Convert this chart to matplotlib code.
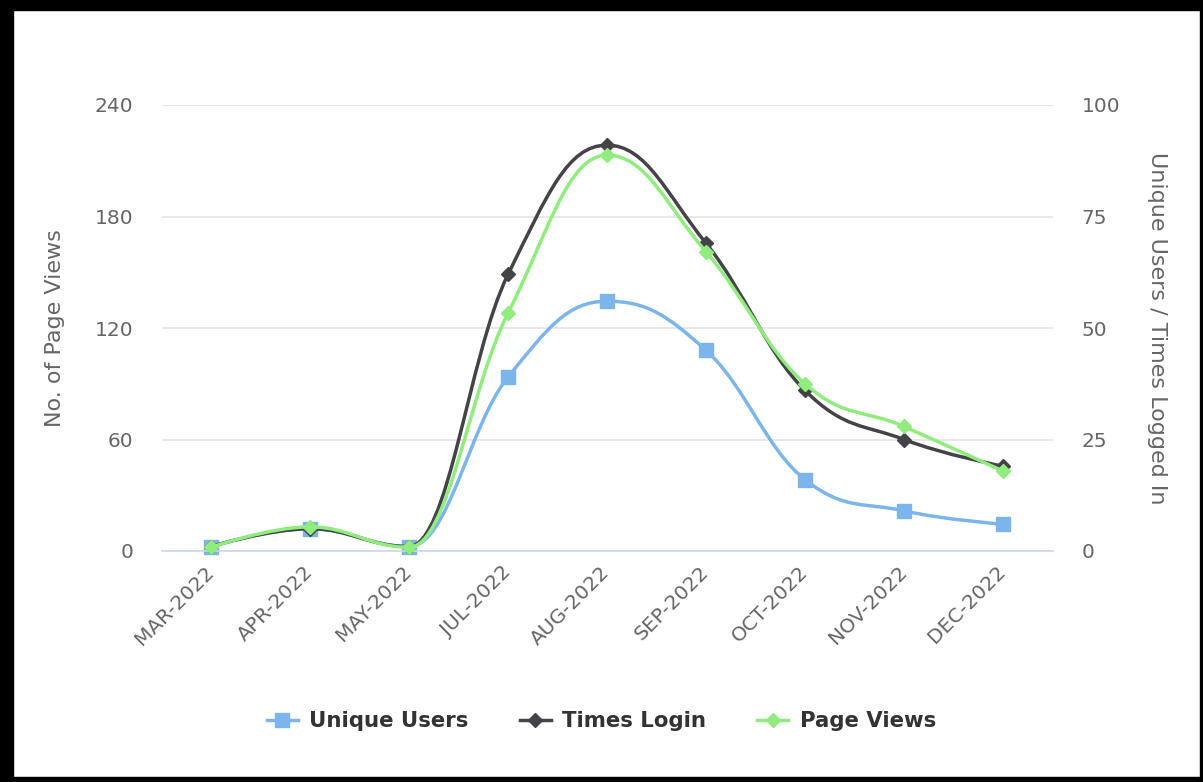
import numpy as np
import matplotlib
matplotlib.use("Agg")
from matplotlib import pyplot as plt
from matplotlib.path import Path
from matplotlib.patches import PathPatch, Rectangle
from matplotlib.lines import Line2D

# data
months = ['MAR-2022', 'APR-2022', 'MAY-2022', 'JUL-2022', 'AUG-2022',
          'SEP-2022', 'OCT-2022', 'NOV-2022', 'DEC-2022']
unique_users = [1, 5, 1, 39, 56, 45, 16, 9, 6]      # right axis
times_login = [1, 5, 1, 62, 91, 69, 36, 25, 19]     # right axis
page_views = [2, 13, 2, 128, 213, 161, 90, 67, 43]  # left axis

BLUE = '#7cb5ec'
DARK = '#434348'
GREEN = '#90ed7d'
GREY = '#666666'


def spline_path(xs, ys, smoothing=1.5):
    # highcharts style spline: bezier segments, control points from neighbours
    n = len(xs)
    left = [None] * n
    right = [None] * n
    denom = smoothing + 1
    for i in range(1, n - 1):
        x, y = xs[i], ys[i]
        lx, ly = xs[i - 1], ys[i - 1]
        nx, ny = xs[i + 1], ys[i + 1]
        lcx = (smoothing * x + lx) / denom
        lcy = (smoothing * y + ly) / denom
        rcx = (smoothing * x + nx) / denom
        rcy = (smoothing * y + ny) / denom
        corr = 0
        if rcx != lcx:
            corr = (rcy - lcy) * (rcx - x) / (rcx - lcx) + y - rcy
        lcy += corr
        rcy += corr
        # no false extremes
        if lcy > ly and lcy > y:
            lcy = max(ly, y); rcy = 2 * y - lcy
        elif lcy < ly and lcy < y:
            lcy = min(ly, y); rcy = 2 * y - lcy
        if rcy > ny and rcy > y:
            rcy = max(ny, y); lcy = 2 * y - rcy
        elif rcy < ny and rcy < y:
            rcy = min(ny, y); lcy = 2 * y - rcy
        left[i] = (lcx, lcy)
        right[i] = (rcx, rcy)
    verts = [(xs[0], ys[0])]
    codes = [Path.MOVETO]
    for i in range(1, n):
        c1 = right[i - 1] or (xs[i - 1], ys[i - 1])
        c2 = left[i] or (xs[i], ys[i])
        verts += [c1, c2, (xs[i], ys[i])]
        codes += [Path.CURVE4] * 3
    return Path(verts, codes)


W, H = 1203, 782
fig = plt.figure(figsize=(W / 100, H / 100), dpi=100)
ax = fig.add_axes([161.5 / W, 231 / H, 891 / W, 446 / H])
ax2 = ax.twinx()
ax.set_zorder(2)
ax2.set_zorder(1)
ax.patch.set_visible(False)

x = np.arange(len(months))

# right axis series
ax2.add_patch(PathPatch(spline_path(x, unique_users), fill=False, ec=BLUE, lw=2.5, zorder=3))
ax2.plot(x, unique_users, ls='none', marker='s', ms=10, color=BLUE, clip_on=False, zorder=4)
ax2.add_patch(PathPatch(spline_path(x, times_login), fill=False, ec=DARK, lw=2.5, zorder=5))
ax2.plot(x, times_login, ls='none', marker='D', ms=7, color=DARK, clip_on=False, zorder=6)

# left axis series
ax.add_patch(PathPatch(spline_path(x, page_views), fill=False, ec=GREEN, lw=2.5, zorder=3))
ax.plot(x, page_views, ls='none', marker='D', ms=7, color=GREEN, clip_on=False, zorder=4)

ax.set_xlim(-0.5, len(months) - 0.5)
ax.set_ylim(0, 240)
ax2.set_ylim(0, 100)
ax.set_yticks([0, 60, 120, 180, 240])
ax2.set_yticks([0, 25, 50, 75, 100])
ax.set_xticks(x)
ax.set_xticklabels(months, rotation=45, ha='right', va='center', rotation_mode='anchor')

ax2.yaxis.grid(True, color='#e6e6e6', lw=1.3)
ax2.set_axisbelow(True)

for a in (ax, ax2):
    for s in ('top', 'left', 'right'):
        a.spines[s].set_visible(False)
ax2.spines['bottom'].set_visible(False)
ax.spines['bottom'].set_color('#ccd6eb')
ax.spines['bottom'].set_linewidth(1.2)

ax.tick_params(axis='y', length=0, pad=20.5, labelsize=14.5, labelcolor=GREY)
ax2.tick_params(axis='y', length=0, pad=21, labelsize=14.5, labelcolor=GREY)
ax.tick_params(axis='x', length=0, pad=13, labelsize=14.5, labelcolor=GREY)

ax.set_ylabel('No. of Page Views', fontsize=16, color=GREY, va='center')
ax.yaxis.set_label_coords((55 - 161.5) / 891, 0.5)
ax2.set_ylabel('Unique Users / Times Logged In', fontsize=16, color=GREY,
               rotation=270, va='center')
ax2.yaxis.set_label_coords((1157 - 161.5) / 891, 0.5)

handles = [
    Line2D([], [], color=BLUE, lw=2.5, marker='s', ms=10),
    Line2D([], [], color=DARK, lw=2.5, marker='D', ms=7),
    Line2D([], [], color=GREEN, lw=2.5, marker='D', ms=7),
]
fig.legend(handles, ['Unique Users', 'Times Login', 'Page Views'],
           loc='center', bbox_to_anchor=(0.5, 1 - 721 / H), ncol=3, frameon=False,
           prop={'weight': 'bold', 'size': 15.3}, labelcolor='#333333',
           handlelength=1.45, handletextpad=0.55, columnspacing=2.4)

# black screenshot frame
for r in [(0, 0, 13 / W, 1), (0, 1 - 10 / H, 1, 10 / H),
          (1 - 3 / W, 0, 3 / W, 1), (0, 0, 1, 5 / H)]:
    fig.add_artist(Rectangle(r[:2], r[2], r[3], transform=fig.transFigure,
                             color='black', zorder=10))

fig.savefig('out.png', dpi=100)
plt.close()
